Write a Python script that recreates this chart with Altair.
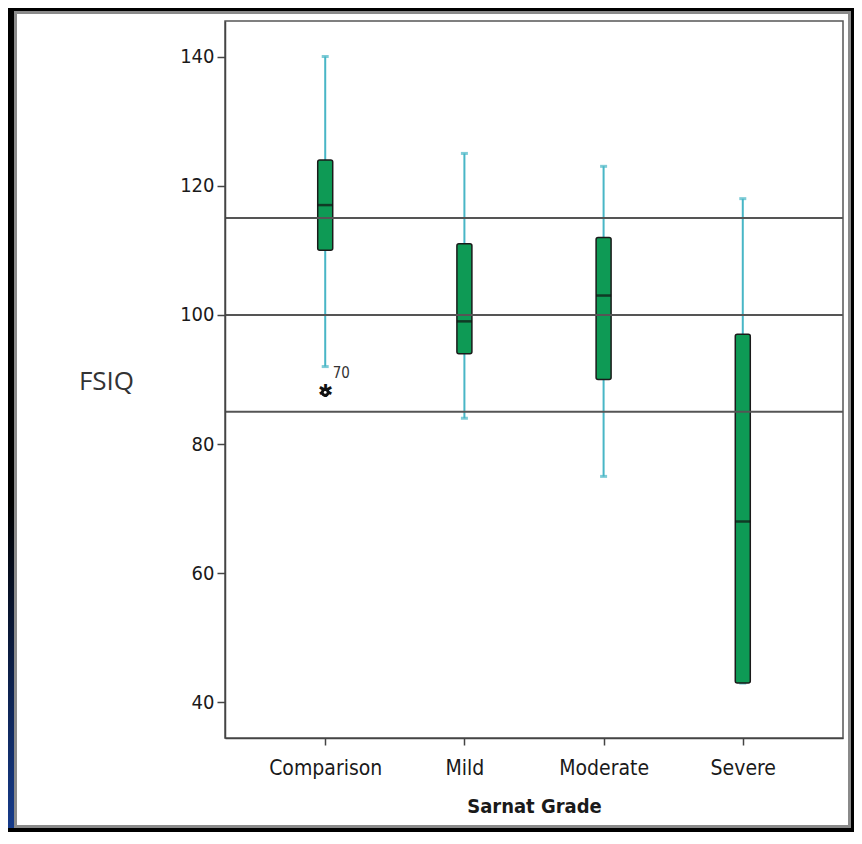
import altair as alt
import pandas as pd

categories = ["Comparison", "Mild", "Moderate", "Severe"]
whisker_low = [92, 84, 75, 43]
q1 = [110, 94, 90, 43]
median = [117, 99, 103, 68]
q3 = [124, 111, 112, 97]
whisker_high = [140, 125, 123, 118]
outlier_cat = ["Comparison"]
outlier_val = [88]
outlier_lbl = ["70"]
ref_lines = [85, 100, 115]
y_ticks = [40, 60, 80, 100, 120, 140]

df = pd.DataFrame({"grade": categories, "lo": whisker_low, "q1": q1,
                   "med": median, "q3": q3, "hi": whisker_high})
out_df = pd.DataFrame({"grade": outlier_cat, "v": outlier_val, "lbl": outlier_lbl})
ref_df = pd.DataFrame({"v": ref_lines})
one = pd.DataFrame({"k": [0]})

COND = "DejaVu Sans Condensed"
GREEN = "#0e9a55"
TEAL = "#48b6c6"

xenc = alt.X("grade:N", sort=categories,
             scale=alt.Scale(type="point", padding=0.72),
             axis=alt.Axis(title="Sarnat Grade", labelAngle=0, tickSize=7,
                           labelPadding=12, labelFontSize=21, labelFont=COND,
                           labelColor="#1a1a1a", titleFont=COND, titleFontSize=20,
                           titleFontWeight="bold", titleColor="#1a1a1a",
                           titleY=68, titleBaseline="middle",
                           domainColor="#444", tickColor="#444",
                           domainWidth=1.5, tickWidth=1.5, zindex=1))
yscale = alt.Scale(domain=[34.5, 145.5], nice=False, zero=False)
yaxis = alt.Axis(title="FSIQ", values=y_ticks, grid=False, tickSize=8,
                 labelPadding=3, labelFontSize=20, labelFont=COND,
                 labelColor="#1a1a1a", titleAngle=0, titleX=-119, titleY=360,
                 titleAlign="center", titleBaseline="middle",
                 titleFont="Open Sans", titleFontSize=26,
                 titleFontWeight="normal", titleColor="#333",
                 domainColor="#444", tickColor="#444",
                 domainWidth=1.5, tickWidth=1.5, zindex=1)

grad = alt.Gradient(gradient="linear", x1=0, y1=0, x2=0, y2=1,
                    stops=[alt.GradientStop(offset=0.0, color="#000000"),
                           alt.GradientStop(offset=0.6, color="#000000"),
                           alt.GradientStop(offset=1.0, color="#173c8c")])

# decorative frame around the white panel
strip_l = alt.Chart(one).mark_rect(fill=grad).encode(
    x=alt.value(-217), x2=alt.value(-211), y=alt.value(-13), y2=alt.value(811))
strip_t = alt.Chart(one).mark_rect(fill="black").encode(
    x=alt.value(-217), x2=alt.value(629), y=alt.value(-13), y2=alt.value(-10))
strip_r = alt.Chart(one).mark_rect(fill="black").encode(
    x=alt.value(626), x2=alt.value(629), y=alt.value(-13), y2=alt.value(811))
strip_b = alt.Chart(one).mark_rect(fill="black").encode(
    x=alt.value(-217), x2=alt.value(629), y=alt.value(807), y2=alt.value(811))
panel = alt.Chart(one).mark_rect(fill=None, stroke="#8a8a8a", strokeWidth=3).encode(
    x=alt.value(-209.5), x2=alt.value(624.5), y=alt.value(-8.5), y2=alt.value(805.5))

whisk = alt.Chart(df).mark_rule(color=TEAL, strokeWidth=2).encode(
    x=xenc, y=alt.Y("lo:Q", scale=yscale, axis=yaxis), y2="hi:Q")
cap_hi = alt.Chart(df).mark_tick(color=TEAL, size=7, thickness=3).encode(
    x=xenc, y=alt.Y("hi:Q", scale=yscale))
cap_lo = alt.Chart(df).mark_tick(color=TEAL, size=7, thickness=3).encode(
    x=xenc, y=alt.Y("lo:Q", scale=yscale))
box = alt.Chart(df).mark_bar(size=15, fill=GREEN, stroke="#1a1a1a",
                             strokeWidth=1.5, cornerRadius=2).encode(
    x=xenc, y=alt.Y("q1:Q", scale=yscale), y2="q3:Q")
med = alt.Chart(df).mark_tick(color="#111", size=15, thickness=2.5).encode(
    x=xenc, y=alt.Y("med:Q", scale=yscale))
refs = alt.Chart(ref_df).mark_rule(color="#555", strokeWidth=2).encode(
    y=alt.Y("v:Q", scale=yscale))
out_pt = alt.Chart(out_df).mark_point(shape="circle", filled=True, color="#111",
                                      size=75, opacity=1).encode(
    x=xenc, y=alt.Y("v:Q", scale=yscale))
out_star = alt.Chart(out_df).mark_text(text="✱", fontSize=18, color="#111",
                                        baseline="middle", align="center").encode(
    x=xenc, y=alt.Y("v:Q", scale=yscale))
out_hole = alt.Chart(out_df).mark_point(shape="circle", filled=True, color="white",
                                        size=8, opacity=1).encode(
    x=xenc, y=alt.Y("v:Q", scale=yscale))
out_txt = alt.Chart(out_df).mark_text(dx=16, dy=-19, fontSize=15, font=COND,
                                      color="#333").encode(
    x=xenc, y=alt.Y("v:Q", scale=yscale), text="lbl:N")

chart = alt.layer(strip_l, strip_t, strip_r, strip_b, panel,
                  whisk, cap_hi, cap_lo, box, med, refs,
                  out_pt, out_star, out_hole, out_txt).properties(
    width=618, height=717,
    autosize=alt.AutoSizeParams(type="none"),
    padding={"left": 217, "top": 13, "right": 11, "bottom": 94},
    background="white",
).configure_view(stroke="#555", strokeWidth=1.5)

chart.save("out.html", embed_options={"renderer": "svg", "actions": False})
